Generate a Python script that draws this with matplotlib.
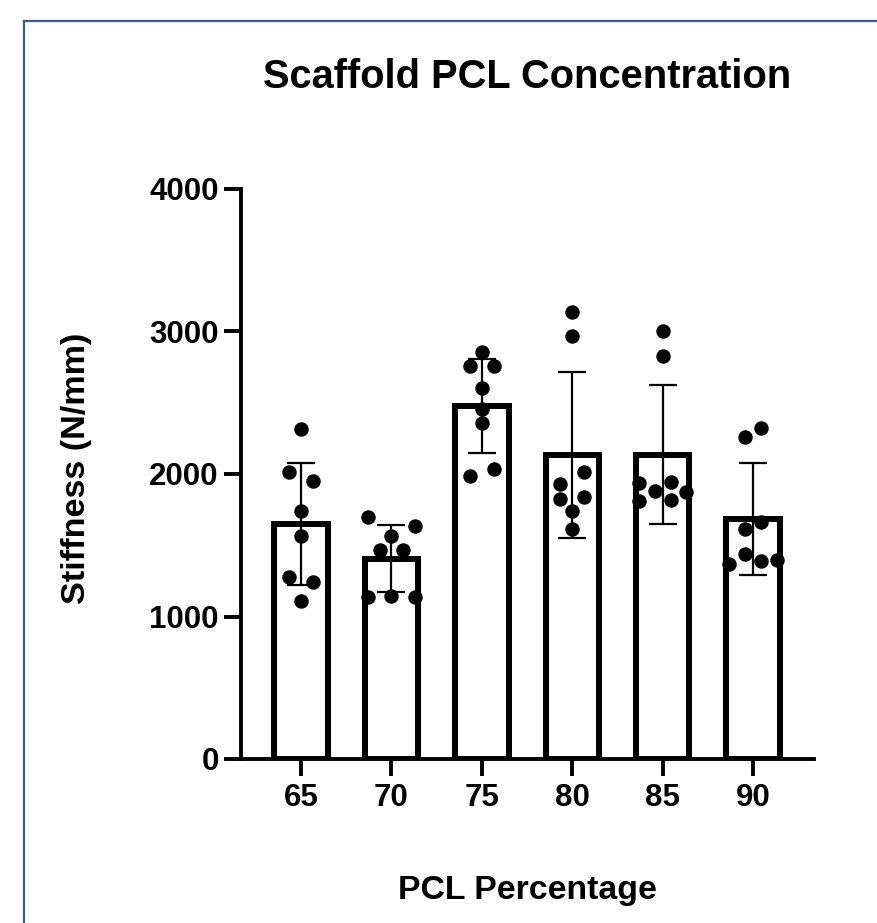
import numpy as np
import matplotlib
matplotlib.use('Agg')
from matplotlib import pyplot as plt
from matplotlib.lines import Line2D

plt.rcParams['font.family'] = ['Liberation Sans', 'DejaVu Sans']
plt.rcParams['font.weight'] = 'bold'

# stiffness values (N/mm), one list per PCL percentage
categories = ['65', '70', '75', '80', '85', '90']
pcl_65 = [2313, 2013, 1954, 1739, 1563, 1277, 1242, 1106]
pcl_70 = [1697, 1638, 1568, 1469, 1464, 1137, 1146, 1137]
pcl_75 = [2859, 2758, 2758, 2606, 2453, 2360, 2032, 1989]
pcl_80 = [3140, 2969, 2013, 1931, 1826, 1837, 1739, 1615]
pcl_85 = [3002, 2826, 1938, 1809, 1879, 1945, 1821, 1872]
pcl_90 = [2325, 2259, 1661, 1617, 1441, 1371, 1387, 1394]
groups = [pcl_65, pcl_70, pcl_75, pcl_80, pcl_85, pcl_90]
y_ticks = [0, 1000, 2000, 3000, 4000]

# horizontal spread of the dots (layout, in units of one dot slot)
slot = 0.044
spread = [
    [0, -3, 3, 0, 0, -3, 3, 0],
    [-6, 6, 0, -3, 3, -6, 0, 6],
    [0, -3, 3, 0, 0, 0, 3, -3],
    [0, 0, 3, -3, -3, 3, 0, 0],
    [0, 0, -6, -6, -2, 2, 2, 6],
    [2, -2, 2, -2, -2, -6, 2, 6],
]

means = [np.mean(g) for g in groups]
sds = [np.std(g, ddof=1) for g in groups]
x = np.arange(len(categories))

fig = plt.figure(figsize=(8.78, 9.23), dpi=100)
ax = fig.add_axes([241 / 878, 1 - 759 / 923, (814 - 241) / 878, (759 - 189) / 923])

ax.bar(x, means, width=0.59, color='white', edgecolor='black', linewidth=4.3, zorder=2)
ax.errorbar(x, means, yerr=sds, fmt='none', ecolor='black', elinewidth=1.6,
            capsize=10.4, capthick=1.6, zorder=3)
for i, g in enumerate(groups):
    xs = x[i] + np.array(spread[i]) * slot
    ax.plot(xs, g, 'o', color='black', markersize=9.4, zorder=4, clip_on=False)

ax.set_xlim(-0.665, 5.675)
ax.set_ylim(0, 4000)
ax.set_yticks(y_ticks)
ax.set_xticks(x)
ax.set_xticklabels(categories)
for s in ['top', 'right']:
    ax.spines[s].set_visible(False)
for s in ['left', 'bottom']:
    ax.spines[s].set_linewidth(2.8)
ax.tick_params(axis='both', direction='out', length=12, width=2.8, labelsize=22.5)
ax.tick_params(axis='y', pad=4)
ax.tick_params(axis='x', pad=5)
for lab in ax.get_xticklabels() + ax.get_yticklabels():
    lab.set_fontweight('bold')

fig.text(527 / 878, 1 - 88 / 923, 'Scaffold PCL Concentration', ha='center',
         va='baseline', fontsize=28.7, fontweight='bold')
fig.text(527 / 878, 1 - 899 / 923, 'PCL Percentage', ha='center', va='baseline',
         fontsize=24.4, fontweight='bold')
fig.text(77 / 878, 1 - 468 / 923, 'Stiffness (N/mm)', ha='center', va='center',
         rotation=90, fontsize=24.6, fontweight='bold')

# frame around the figure (cropped on right and bottom)
fx, fy = 24 / 878, 1 - 21 / 923
fig.add_artist(Line2D([fx, fx], [0, fy], color='#3d5a8c', linewidth=1.6))
fig.add_artist(Line2D([fx, 1], [fy, fy], color='#3d5a8c', linewidth=1.6))

plt.savefig('out.png', dpi=100)
